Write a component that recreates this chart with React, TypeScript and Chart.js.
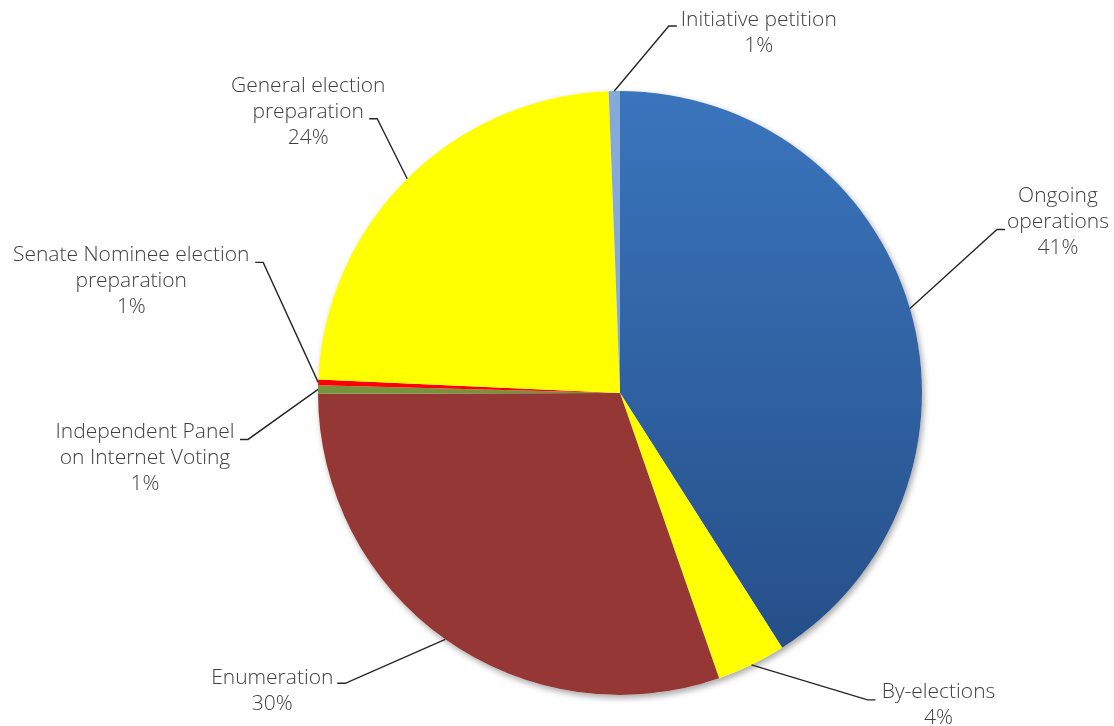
import React, { useEffect, useRef } from "react";
import { Chart, registerables } from "chart.js";

Chart.register(...registerables);

const categories = [
  "Ongoing operations",
  "By-elections",
  "Enumeration",
  "Independent Panel on Internet Voting",
  "Senate Nominee election preparation",
  "General election preparation",
  "Initiative petition",
];
const labelLines = [
  ["Ongoing", "operations"],
  ["By-elections"],
  ["Enumeration"],
  ["Independent Panel", "on Internet Voting"],
  ["Senate Nominee election", "preparation"],
  ["General election", "preparation"],
  ["Initiative petition"],
];
const values = [41.0, 3.7, 30.3, 0.45, 0.3, 23.7, 0.6];
const pctLabels = ["41%", "4%", "30%", "1%", "1%", "24%", "1%"];

const sliceColors = ["#3570B8", "#FFFF00", "#953735", "#77933C", "#FF0000", "#FFFF00", "#86A9DC"];

// label layout: elbow offset from arc anchor, block centre offset from elbow
const elbowOffsets = [
  [87, -79],
  [116, 35],
  [-100, 44],
  [-70, 50],
  [-55, -120],
  [-30, -60],
  [54.5, -65],
];
const blockOffsets = [
  [61, -8],
  [71, 5],
  [-73, 8],
  [-103, 19],
  [-132, 19],
  [-69, -7],
  [90, 6.5],
];

const FONT = '300 21px "Open Sans", "DejaVu Sans", sans-serif';
const LINE_H = 26;

const labelPlugin = {
  id: "outLabels",
  beforeDatasetsDraw(chart: any) {
    const meta = chart.getDatasetMeta(0);
    const a = meta.data[0];
    if (!a) return;
    const p = a.getProps(["x", "y", "outerRadius"], true);
    const ctx = chart.ctx;
    ctx.save();
    ctx.beginPath();
    ctx.arc(p.x, p.y, p.outerRadius, 0, Math.PI * 2);
    ctx.shadowColor = "rgba(0,0,0,0.35)";
    ctx.shadowBlur = 6;
    ctx.shadowOffsetX = 2;
    ctx.shadowOffsetY = 3;
    ctx.fillStyle = "#ffffff";
    ctx.fill();
    ctx.restore();
  },
  afterDraw(chart: any) {
    const meta = chart.getDatasetMeta(0);
    const ctx = chart.ctx;
    ctx.save();
    meta.data.forEach((arc: any, i: number) => {
      const p = arc.getProps(["x", "y", "startAngle", "endAngle", "outerRadius"], true);
      const mid = (p.startAngle + p.endAngle) / 2;
      const ax = p.x + Math.cos(mid) * p.outerRadius;
      const ay = p.y + Math.sin(mid) * p.outerRadius;
      const ex = ax + elbowOffsets[i][0];
      const ey = ay + elbowOffsets[i][1];
      const dir = elbowOffsets[i][0] >= 0 ? 1 : -1;
      ctx.beginPath();
      ctx.moveTo(ax, ay);
      ctx.lineTo(ex, ey);
      ctx.lineTo(ex + dir * 8, ey);
      ctx.strokeStyle = "#262626";
      ctx.lineWidth = 1.4;
      ctx.stroke();

      const lines = [...labelLines[i], pctLabels[i]];
      const cx = ex + blockOffsets[i][0];
      const cy = ey + blockOffsets[i][1];
      ctx.font = FONT;
      ctx.fillStyle = "#404040";
      ctx.textAlign = "center";
      ctx.textBaseline = "middle";
      const top = cy - ((lines.length - 1) * LINE_H) / 2;
      lines.forEach((t, k) => ctx.fillText(t, cx, top + k * LINE_H));
    });
    ctx.restore();
  },
};

export default function App() {
  const ref = useRef<HTMLCanvasElement>(null);
  useEffect(() => {
    document.body.style.margin = "0";
    const canvas = ref.current!;
    const chart = new Chart(canvas, {
      type: "pie",
      data: {
        labels: categories,
        datasets: [
          {
            data: values,
            borderWidth: 0,
            backgroundColor: (c: any) => {
              const chart = c.chart;
              const area = chart.chartArea;
              if (c.dataIndex === 0 && area) {
                const g = chart.ctx.createLinearGradient(0, area.top, 0, area.bottom);
                g.addColorStop(0, "#3A75BD");
                g.addColorStop(1, "#244C84");
                return g;
              }
              return sliceColors[c.dataIndex];
            },
          },
        ],
      },
      options: {
        responsive: false,
        animation: false,
        events: [],
        layout: { padding: { left: 318, right: 192, top: 91, bottom: 31 } },
        plugins: { legend: { display: false }, tooltip: { enabled: false } },
      },
      plugins: [labelPlugin],
    });
    return () => chart.destroy();
  }, []);
  return (
    <div style={{ position: "absolute", left: 0, top: 0, width: 1114, height: 726, background: "#fff" }}>
      <canvas ref={ref} width={1114} height={726} />
    </div>
  );
}
